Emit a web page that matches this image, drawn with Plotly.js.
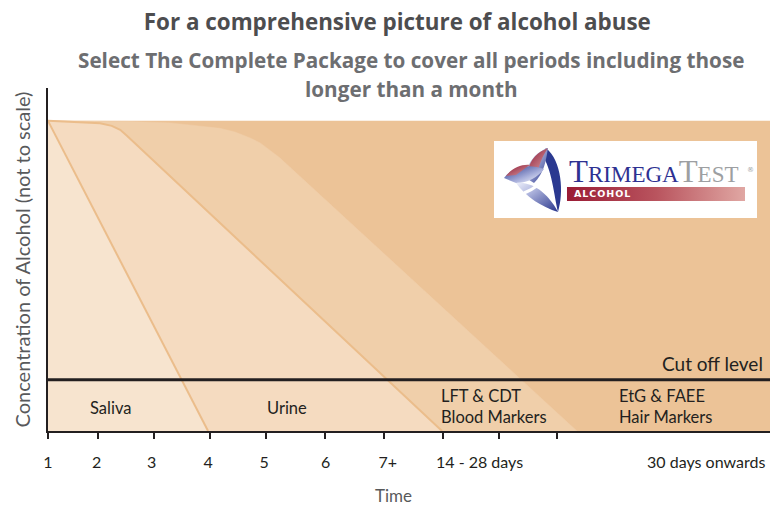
<!DOCTYPE html>
<html><head><meta charset="utf-8">
<script src="https://cdn.plot.ly/plotly-3.0.1.min.js"></script>
<style>html,body{margin:0;padding:0;background:#fff}</style>
</head><body><div id="chart" style="width:770px;height:507px"></div>
<script>
// ---------- data ----------
const xMin = 1, xMax = 13.9;
const yMax = 110.6;
const fullLevel = 100;
const cutoffLevel = 16.5;

const tickPositions = [1, 1.9, 2.9, 3.9, 4.9, 5.95, 7, 8.05, 9.05, 10.1];
const tickLabels = ["1", "2", "3", "4", "5", "6", "7+", "14 - 28 days", "30 days onwards"];
const tickLabelPositions = [1.0, 1.87, 2.85, 3.86, 4.86, 5.96, 7.07, 8.71, 12.76];

const hairX = [1, 13.9];
const hairY = [100, 100];
const bloodX = [1, 2.46, 3.18, 3.71, 4.07, 4.34, 4.61, 4.79, 4.96, 5.14, 10.45];
const bloodY = [100, 99.8, 99.35, 98.4, 97.6, 96.4, 94.5, 92.9, 90.6, 88.1, 0];
const urineX = [1, 1.93, 2.14, 2.29, 2.41, 8.04];
const urineY = [100, 99.2, 98.4, 97.1, 95.2, 0];
const salivaX = [1, 3.86];
const salivaY = [100, 0];

const regionLabels = ["Saliva", "Urine", "LFT & CDT<br>Blood Markers", "EtG & FAEE<br>Hair Markers"];
const regionX = [2.11, 5.27, 7.98, 11.16];
const regionY = [7.4, 7.4, 7.9, 7.9];
const regionAnchor = ["center", "center", "left", "left"];

const titleText = "For a comprehensive picture of alcohol abuse";
const subtitleLines = ["Select The Complete Package to cover all periods including those", "longer than a month"];
const yTitle = "Concentration of Alcohol (not to scale)";
const xTitle = "Time";
const cutoffText = "Cut off level";

// ---------- styles ----------
const C = {hair:'#ecc397', blood:'#f0cfaa', urine:'#f5dbc0', saliva:'#f7e4cf', edge:'#ebbd8b', ink:'#231f20'};
const FONT = 'Lato, "Open Sans", sans-serif';
const HEAD = '"Open Sans", Lato, sans-serif';

function area(x, y, fill, lw, lc) {
  return {x:x, y:y, type:'scatter', mode:'lines', fill:'tozeroy', fillcolor:fill,
    line:{width:lw, color:lc}, hoverinfo:'skip', showlegend:false};
}
const traces = [
  area(hairX, hairY, C.hair, 0, C.hair),
  area(bloodX, bloodY, C.blood, 0.5, C.blood),
  area(urineX, urineY, C.urine, 2, C.edge),
  area(salivaX, salivaY, C.saliva, 2, C.edge),
  {x:[xMin, xMax], y:[cutoffLevel, cutoffLevel], type:'scatter', mode:'lines',
   line:{width:3, color:C.ink}, hoverinfo:'skip', showlegend:false},
  {x:[xMin], y:[0], xaxis:'x2', type:'scatter', mode:'none', hoverinfo:'skip', showlegend:false}
];

// ---------- annotations ----------
const ann = [];
subtitleLines.forEach((t, i) => ann.push({text:'<b>'+t+'</b>', xref:'paper', yref:'paper',
  x:0.5028, y:[1.0816, 0.9971][i], xanchor:'center', yanchor:'middle', showarrow:false,
  font:{family:HEAD, size:20.7, color:'#6d6e71'}}));
ann.push({text:xTitle, xref:'paper', yref:'paper', x:0.478, y:-0.1866, xanchor:'center', yanchor:'middle',
  showarrow:false, font:{family:FONT, size:17, color:'#58595b'}});
ann.push({text:cutoffText, xref:'x', yref:'y', x:xMax, y:21.9, xanchor:'right', yanchor:'middle', xshift:-5,
  showarrow:false, font:{family:FONT, size:19, color:C.ink}});
regionLabels.forEach((t, i) => {
  ann.push({text:t, xref:'x', yref:'y', x:regionX[i], y:regionY[i], align:'left',
    xanchor:regionAnchor[i], yanchor:'middle', showarrow:false, font:{family:FONT, size:16.5, color:C.ink}});
});
// logo text
ann.push({text:'<span style="font-size:31px">T</span>RIMEGA<span style="color:#9d9fa2"><span style="font-size:31px">T</span>EST</span>',
  xref:'paper', yref:'paper', x:0.7188, y:0.6997, xanchor:'left', yanchor:'bottom', showarrow:false,
  font:{family:'"Liberation Serif", "DejaVu Serif", serif', size:23, color:'#2e3192'}});
ann.push({text:'®', xref:'paper', yref:'paper', x:0.9654, y:0.761, xanchor:'left', yanchor:'middle', showarrow:false,
  font:{family:'"DejaVu Sans", sans-serif', size:7, color:'#9d9fa2'}});
ann.push({text:'<b>A\u200AL\u200AC\u200AO\u200AH\u200AO\u200AL</b>', xref:'paper', yref:'paper',
  x:0.7257, y:0.6910, xanchor:'left', yanchor:'middle', showarrow:false,
  font:{family:'"DejaVu Sans", sans-serif', size:9.5, color:'#ffffff'}});

// ---------- logo graphics (box 263x77) ----------
const logoSvg = '<svg xmlns="http://www.w3.org/2000/svg" viewBox="0 0 263 77" width="263" height="77">' +
 '<defs>' +
 '<linearGradient id="b" x1="0" y1="0" x2="1" y2="1"><stop offset="0" stop-color="#27348b"/><stop offset="0.6" stop-color="#aab1dc"/><stop offset="1" stop-color="#ffffff"/></linearGradient>' +
 '<linearGradient id="b2" x1="1" y1="1" x2="0" y2="0"><stop offset="0" stop-color="#27348b"/><stop offset="0.7" stop-color="#b7bde2"/><stop offset="1" stop-color="#eef0fa"/></linearGradient>' +
 '<linearGradient id="r" x1="0" y1="0" x2="1" y2="1"><stop offset="0" stop-color="#8e1730"/><stop offset="1" stop-color="#d9a0a8"/></linearGradient>' +
 '<linearGradient id="g" x1="0" y1="0" x2="1" y2="0"><stop offset="0" stop-color="#9a1b35"/><stop offset="0.5" stop-color="#b9545e"/><stop offset="1" stop-color="#e0a7a3"/></linearGradient>' +
 '</defs>' +
 '<rect x="0" y="0" width="263" height="77" fill="#ffffff"/>' +
 '<rect x="73" y="46" width="178" height="14" fill="url(#g)"/>' +
 '<g transform="translate(8,6)">' +
 '<path d="M44 1 C60 14 62 46 56 65 C52 48 50 22 40 8 Z" fill="#2b3990"/>' +
 '<path d="M24 31 C24 16 34 5 46 1 C44 14 42 26 32 36 Z" fill="url(#b2)"/>' +
 '<path d="M26 24 C28 12 36 5 46 1 C40 10 38 16 36 24 Z" fill="url(#r)"/>' +
 '<path d="M2 31 C10 20 26 16 42 22 C36 30 26 36 14 36 Z" fill="url(#b)"/>' +
 '<path d="M4 29 C10 21 20 17 28 18 C22 22 18 25 14 28 Z" fill="url(#r)"/>' +
 '<path d="M14 36 C26 34 44 42 56 65 C40 60 24 50 14 36 Z" fill="url(#b2)"/>' +
 '<path d="M22 46 C32 42 40 37 43 28" stroke="#ffffff" stroke-width="3" fill="none"/>' +
 '</g></svg>';
const uri = s => 'data:image/svg+xml;base64,' + btoa(s);

const layout = {
  width:770, height:507,
  margin:{l:48, r:0, t:88, b:76, pad:0},
  paper_bgcolor:'#ffffff', plot_bgcolor:'#ffffff',
  showlegend:false, hovermode:false,
  font:{family:FONT, color:C.ink},
  title:{text:'<b>'+titleText+'</b>', font:{family:HEAD, size:22.4, color:'#4d4d4f'},
    x:0.516, xanchor:'center', xref:'container', y:0.957, yanchor:'middle', yref:'container'},
  xaxis:{range:[xMin, xMax], showgrid:false, zeroline:false, showline:true, linecolor:C.ink, linewidth:2,
    ticks:'outside', ticklen:6, tickwidth:2, tickcolor:C.ink, tickmode:'array', tickvals:tickPositions,
    showticklabels:false, fixedrange:true},
  xaxis2:{overlaying:'x', anchor:'y', side:'bottom', range:[xMin, xMax], showgrid:false, zeroline:false,
    showline:false, ticks:'', tickmode:'array', tickvals:tickLabelPositions, ticktext:tickLabels,
    tickfont:{family:FONT, size:16, color:C.ink}, ticklabelstandoff:20, fixedrange:true},
  yaxis:{range:[0, yMax], showgrid:false, zeroline:false, showline:true, linecolor:C.ink, linewidth:2,
    ticks:'', showticklabels:false, fixedrange:true,
    title:{text:yTitle, font:{family:FONT, size:20, color:'#58595b'}, standoff:10}},
  images:[
    {source:uri(logoSvg), xref:'paper', yref:'paper', x:0.6177, y:0.8455, sizex:0.3643, sizey:0.2245,
     xanchor:'left', yanchor:'top', sizing:'stretch', layer:'above'}
  ],
  annotations:ann
};

Plotly.newPlot('chart', traces, layout, {displayModeBar:false, staticPlot:true});
</script>
</body></html>
